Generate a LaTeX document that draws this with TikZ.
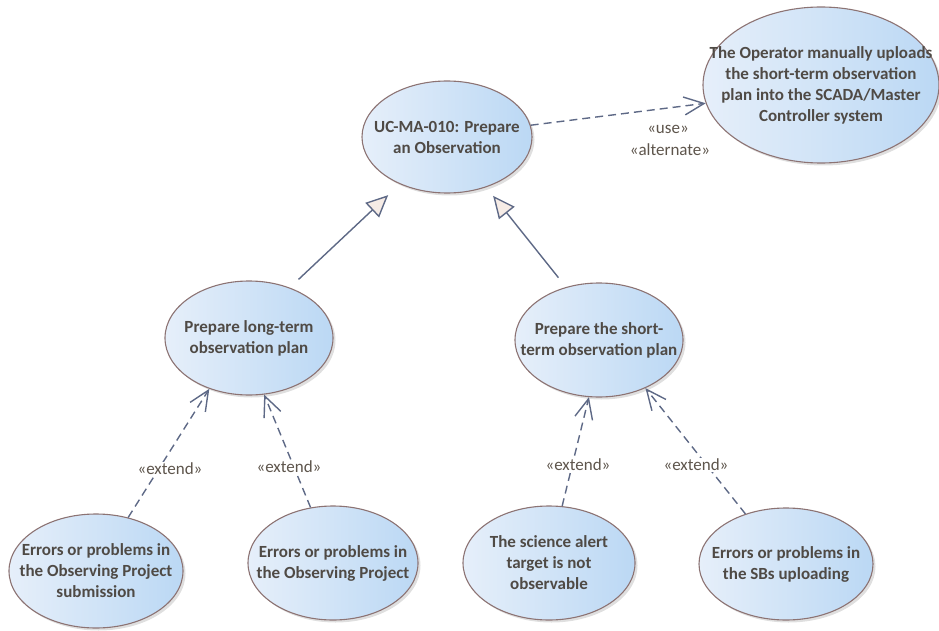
\documentclass[tikz,border=0pt]{standalone}
\usepackage{fontspec}
\setmainfont{Carlito}
\usepackage{tikz}
\usetikzlibrary{shapes.geometric}
\usetikzlibrary{arrows.meta,shadows}
\usepackage{xcolor}
\definecolor{ucleft}{HTML}{E6EFFA}
\definecolor{ucright}{HTML}{BBD8F4}
\definecolor{ucborder}{HTML}{8C7373}
\definecolor{ucline}{HTML}{5E6986}
\definecolor{uctext}{HTML}{4F4A45}
\definecolor{lbltext}{HTML}{5E554C}
\definecolor{trifill}{HTML}{F6ECE6}

\begin{document}
\begin{tikzpicture}[x=1pt,y=-1pt,
  uc/.style={ellipse,draw=ucborder,line width=1.1pt,left color=ucleft,right color=ucright,
    inner sep=-80pt,align=center,text=uctext,font=\fontsize{17}{21}\selectfont\bfseries,
    drop shadow={shadow xshift=2.5pt,shadow yshift=-2.5pt,opacity=0.25}},
  lbl/.style={fill=white,inner sep=1pt,text=lbltext,font=\fontsize{17}{21}\selectfont},
  dep/.style={draw=ucline,line width=1.4pt,dash pattern=on 8pt off 5pt,
    -{Straight Barb[length=20pt,width=18pt]}},
  gen/.style={draw=ucline,line width=1.4pt,-{Triangle[length=22pt,width=20pt,fill=trifill]}}]
 \useasboundingbox (0,0) rectangle (939,631);

 % use cases
 \node[uc,minimum width=170pt,minimum height=112pt] (main) at (447,137) {UC-MA-010: Prepare\\an Observation};
 \node[uc,minimum width=236pt,minimum height=156pt] (oper) at (821,85) {The Operator manually uploads\\the short-term observation\\plan into the SCADA/Master\\Controller system};
 \node[uc,minimum width=168pt,minimum height=114pt] (lt) at (249,338) {Prepare long-term\\observation plan};
 \node[uc,minimum width=168pt,minimum height=114pt] (st) at (599,340) {Prepare the short-\\term observation plan};
 \node[uc,minimum width=174pt,minimum height=114pt] (b1) at (96,571) {Errors or problems in\\the Observing Project\\submission};
 \node[uc,minimum width=170pt,minimum height=114pt] (b2) at (333,563) {Errors or problems in\\the Observing Project};
 \node[uc,minimum width=172pt,minimum height=114pt] (b3) at (549,563) {The science alert\\target is not\\observable};
 \node[uc,minimum width=174pt,minimum height=112pt] (b4) at (786,564) {Errors or problems in\\the SBs uploading};

 % generalizations
 \draw[gen,shorten <=12pt,shorten >=16pt] (lt.51) -- (main.225);
 \draw[gen,shorten <=12pt,shorten >=11pt] (st.122) -- (main.308);

 % dependencies
 \draw[dep] (main.8) -- (oper.189);
 \node[lbl] (use) at (668,129) {«use»};
 \node[lbl] (alt) at (670,150) {«alternate»};

 \draw[dep] (b1.59) -- (lt.232);
 \draw[dep] (b2.112) -- (lt.285);
 \draw[dep] (b3.77) -- (st.260);
 \draw[dep] (b4.129) -- (st.314);
 \node[lbl] (ext1) at (170,469) {«extend»};
 \node[lbl] (ext2) at (289,467) {«extend»};
 \node[lbl] (ext3) at (578,465) {«extend»};
 \node[lbl] (ext4) at (696,465) {«extend»};
\end{tikzpicture}
\end{document}
